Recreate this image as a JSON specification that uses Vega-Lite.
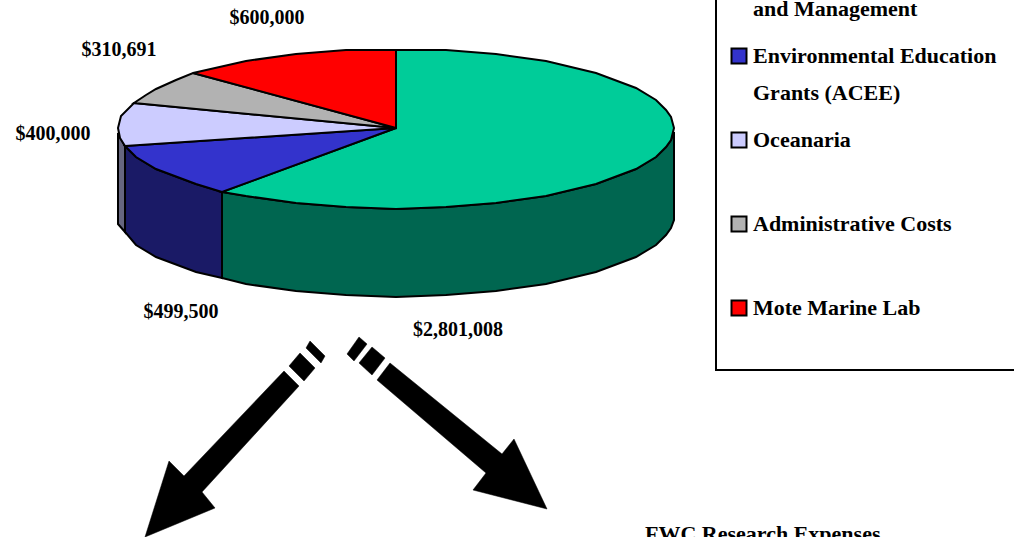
{"$schema":"https://vega.github.io/schema/vega-lite/v6.json","width":1014,"height":537,"autosize":{"type":"none"},"padding":0,"background":"white","view":{"stroke":null},
"config":{"style":{"guide-label":{"lineHeight":37}}},
"datasets":{
"shapes":[
{"part":"box","x":716,"y":-20},{"part":"box","x":716,"y":370},{"part":"box","x":1040,"y":370},{"part":"box","x":1040,"y":-20},
{"part":"Teal side","x":222,"y":192},{"part":"Teal side","x":246,"y":196},{"part":"Teal side","x":296,"y":203},{"part":"Teal side","x":346,"y":207},{"part":"Teal side","x":396,"y":209},{"part":"Teal side","x":446,"y":207},{"part":"Teal side","x":496,"y":203},{"part":"Teal side","x":546,"y":196},{"part":"Teal side","x":596,"y":184},{"part":"Teal side","x":636,"y":169},{"part":"Teal side","x":656,"y":157},{"part":"Teal side","x":666,"y":147},{"part":"Teal side","x":671,"y":140},{"part":"Teal side","x":674,"y":132},{"part":"Teal side","x":674,"y":220},{"part":"Teal side","x":671,"y":228},{"part":"Teal side","x":666,"y":235},{"part":"Teal side","x":656,"y":245},{"part":"Teal side","x":636,"y":257},{"part":"Teal side","x":596,"y":272},{"part":"Teal side","x":546,"y":284},{"part":"Teal side","x":496,"y":291},{"part":"Teal side","x":446,"y":295},{"part":"Teal side","x":396,"y":297},{"part":"Teal side","x":346,"y":295},{"part":"Teal side","x":296,"y":291},{"part":"Teal side","x":246,"y":284},{"part":"Teal side","x":222,"y":278},
{"part":"Blue side","x":222,"y":192},{"part":"Blue side","x":196,"y":184},{"part":"Blue side","x":156,"y":169},{"part":"Blue side","x":136,"y":157},{"part":"Blue side","x":125,"y":146},{"part":"Blue side","x":125,"y":232},{"part":"Blue side","x":136,"y":245},{"part":"Blue side","x":156,"y":257},{"part":"Blue side","x":196,"y":272},{"part":"Blue side","x":222,"y":278},
{"part":"Lavender side","x":118,"y":133},{"part":"Lavender side","x":125,"y":146},{"part":"Lavender side","x":125,"y":232},{"part":"Lavender side","x":118,"y":224},
{"part":"Research and Management","x":396,"y":128},{"part":"Research and Management","x":396,"y":50},{"part":"Research and Management","x":446,"y":50},{"part":"Research and Management","x":496,"y":54},{"part":"Research and Management","x":546,"y":61},{"part":"Research and Management","x":596,"y":73},{"part":"Research and Management","x":636,"y":88},{"part":"Research and Management","x":656,"y":100},{"part":"Research and Management","x":666,"y":110},{"part":"Research and Management","x":671,"y":117},{"part":"Research and Management","x":674,"y":128},{"part":"Research and Management","x":671,"y":140},{"part":"Research and Management","x":666,"y":147},{"part":"Research and Management","x":656,"y":157},{"part":"Research and Management","x":636,"y":169},{"part":"Research and Management","x":596,"y":184},{"part":"Research and Management","x":546,"y":196},{"part":"Research and Management","x":496,"y":203},{"part":"Research and Management","x":446,"y":207},{"part":"Research and Management","x":396,"y":209},{"part":"Research and Management","x":346,"y":207},{"part":"Research and Management","x":296,"y":203},{"part":"Research and Management","x":246,"y":196},{"part":"Research and Management","x":222,"y":192},
{"part":"Environmental Education Grants (ACEE)","x":396,"y":128},{"part":"Environmental Education Grants (ACEE)","x":222,"y":192},{"part":"Environmental Education Grants (ACEE)","x":196,"y":184},{"part":"Environmental Education Grants (ACEE)","x":156,"y":169},{"part":"Environmental Education Grants (ACEE)","x":136,"y":157},{"part":"Environmental Education Grants (ACEE)","x":125,"y":146},
{"part":"Oceanaria","x":396,"y":128},{"part":"Oceanaria","x":125,"y":146},{"part":"Oceanaria","x":120,"y":138},{"part":"Oceanaria","x":118,"y":128},{"part":"Oceanaria","x":121,"y":116},{"part":"Oceanaria","x":134,"y":103},
{"part":"Administrative Costs","x":396,"y":128},{"part":"Administrative Costs","x":134,"y":103},{"part":"Administrative Costs","x":146,"y":95},{"part":"Administrative Costs","x":156,"y":89},{"part":"Administrative Costs","x":176,"y":80},{"part":"Administrative Costs","x":193,"y":73},
{"part":"Mote Marine Lab","x":396,"y":128},{"part":"Mote Marine Lab","x":193,"y":73},{"part":"Mote Marine Lab","x":246,"y":61},{"part":"Mote Marine Lab","x":296,"y":54},{"part":"Mote Marine Lab","x":346,"y":50},{"part":"Mote Marine Lab","x":396,"y":50}
],
"arrows":[
{"part":"a1","x":284,"y":371},{"part":"a1","x":299,"y":386},{"part":"a1","x":202,"y":492},{"part":"a1","x":215,"y":508},{"part":"a1","x":145,"y":537},{"part":"a1","x":169,"y":461},{"part":"a1","x":184,"y":476},
{"part":"a2","x":300,"y":353},{"part":"a2","x":315,"y":368},{"part":"a2","x":304,"y":381},{"part":"a2","x":289,"y":366},
{"part":"a3","x":310,"y":341},{"part":"a3","x":325,"y":356},{"part":"a3","x":321,"y":363},{"part":"a3","x":306,"y":348},
{"part":"b1","x":390,"y":363},{"part":"b1","x":502,"y":454},{"part":"b1","x":514,"y":439},{"part":"b1","x":547,"y":509},{"part":"b1","x":473,"y":490},{"part":"b1","x":486,"y":473},{"part":"b1","x":377,"y":380},
{"part":"b2","x":372,"y":347},{"part":"b2","x":385,"y":358},{"part":"b2","x":372,"y":375},{"part":"b2","x":359,"y":363},
{"part":"b3","x":359,"y":337},{"part":"b3","x":367,"y":344},{"part":"b3","x":354,"y":361},{"part":"b3","x":347,"y":354}
],
"amounts":[
{"value":600000,"x":267,"y":18},{"value":310691,"x":119,"y":50},{"value":400000,"x":53,"y":134},{"value":499500,"x":181,"y":312},{"value":2801008,"x":458,"y":330}
],
"notes":[{"note":"FWC Research Expenses","x":645,"y":534}]
},
"encoding":{
"x":{"field":"x","type":"quantitative","scale":{"domain":[0,1014],"nice":false,"zero":false},"axis":null},
"y":{"field":"y","type":"quantitative","scale":{"domain":[537,0],"nice":false,"zero":false},"axis":null}
},
"layer":[
{"data":{"name":"shapes"},"transform":[{"window":[{"op":"row_number","as":"n"}]}],"mark":{"type":"line","stroke":"black","strokeWidth":2,"strokeJoin":"miter","interpolate":"linear-closed"},
"encoding":{
"detail":{"field":"part"},
"order":{"field":"n","type":"quantitative"},
"fill":{"field":"part","type":"nominal","sort":null,"scale":{"domain":["box","Teal side","Blue side","Lavender side","Research and Management","Environmental Education Grants (ACEE)","Oceanaria","Administrative Costs","Mote Marine Lab"],"range":["#FFFFFF","#006650","#1A1A66","#66667F","#00CC99","#3333CC","#CCCCFF","#B2B2B2","#FF0000"]},
"legend":{"values":["Research and Management","Environmental Education Grants (ACEE)","Oceanaria","Administrative Costs","Mote Marine Lab"],"title":null,"orient":"none","legendX":728,"legendY":-64,"padding":0,"symbolType":"square","symbolSize":225,"symbolStrokeColor":"black","symbolStrokeWidth":2,"symbolOpacity":1,"labelFont":"Liberation Serif","labelFontWeight":"bold","labelFontSize":22,"labelColor":"black","labelLimit":320,"labelOffset":3,"rowPadding":0,"gridAlign":"all","clipHeight":72,
"labelExpr":"datum.label == 'Environmental Education Grants (ACEE)' ? ['Environmental Education','Grants (ACEE)'] : datum.label == 'Research and Management' ? ['Research','and Management'] : datum.label"}}
}},
{"data":{"name":"arrows"},"transform":[{"window":[{"op":"row_number","as":"n"}]}],"mark":{"type":"line","fill":"black","stroke":"black","strokeWidth":0.5,"interpolate":"linear-closed"},
"encoding":{"detail":{"field":"part"},"order":{"field":"n","type":"quantitative"}}},
{"data":{"name":"amounts"},"mark":{"type":"text","font":"Liberation Serif","fontWeight":"bold","fontSize":20,"color":"black"},
"encoding":{"text":{"field":"value","type":"quantitative","format":"$,d"}}},
{"data":{"name":"notes"},"mark":{"type":"text","font":"Liberation Serif","fontWeight":"bold","fontSize":22,"color":"black","align":"left","baseline":"middle"},
"encoding":{"text":{"field":"note"}}}
]}
